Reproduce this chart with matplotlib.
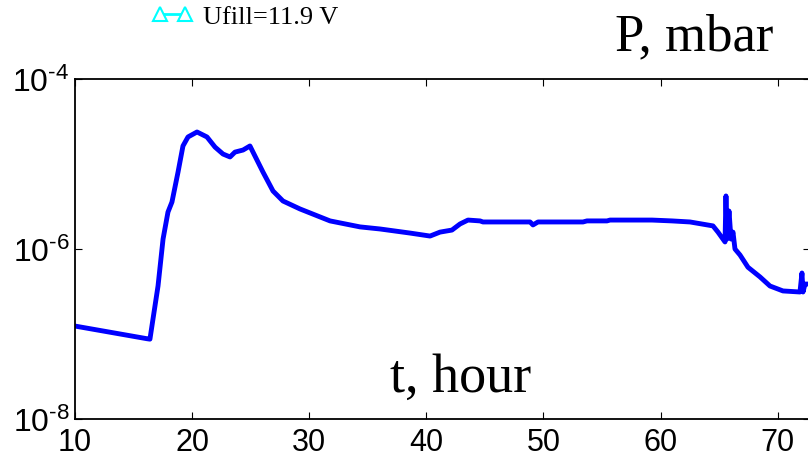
import matplotlib
matplotlib.use("Agg")
import matplotlib.pyplot as plt
from matplotlib.ticker import FixedLocator, FixedFormatter, NullLocator

# Pressure vs time
hours = [10.0, 16.15, 16.40, 16.66, 17.09, 17.52, 17.94, 18.28, 18.80, 19.22,
         19.65, 20.42, 21.27, 21.96, 22.64, 23.24, 23.66, 24.35, 24.94, 25.37,
         26.05, 26.91, 27.76, 29.21, 31.78, 34.34, 36.05, 38.61, 40.32, 41.17,
         42.19, 42.88, 43.56, 44.59, 44.84, 48.86, 49.11, 49.54, 53.38, 53.72,
         55.43, 55.69, 57.40, 59.27, 60.98, 62.52, 64.48, 64.91, 65.51, 65.59,
         65.68, 65.85, 66.02, 66.19, 66.36, 66.79, 67.47, 68.50, 69.35, 70.46,
         71.91, 72.08, 72.17, 72.34, 72.60]
pressure = [1.24e-7, 8.8e-8, 8.7e-8, 1.50e-7, 3.67e-7, 1.31e-6, 2.72e-6, 3.57e-6, 8.05e-6, 1.63e-5,
            2.08e-5, 2.38e-5, 2.08e-5, 1.58e-5, 1.31e-5, 1.21e-5, 1.38e-5, 1.46e-5, 1.63e-5, 1.24e-5,
            8.05e-6, 4.81e-6, 3.67e-6, 2.96e-6, 2.14e-6, 1.82e-6, 1.72e-6, 1.54e-6, 1.42e-6, 1.58e-6,
            1.67e-6, 1.97e-6, 2.19e-6, 2.14e-6, 2.08e-6, 2.08e-6, 1.92e-6, 2.08e-6, 2.08e-6, 2.14e-6,
            2.14e-6, 2.19e-6, 2.19e-6, 2.19e-6, 2.14e-6, 2.08e-6, 1.87e-6, 1.58e-6, 1.21e-6, 4.21e-6,
            1.31e-6, 2.80e-6, 1.31e-6, 1.58e-6, 1.0e-6, 8.5e-7, 6.1e-7, 4.69e-7, 3.67e-7, 3.21e-7,
            3.12e-7, 5.22e-7, 3.12e-7, 3.87e-7, 3.87e-7]

x_ticks = [10, 20, 30, 40, 50, 60, 70]
y_ticks = [1e-8, 1e-6, 1e-4]
y_ticklabels = [r'$\mathregular{10^{\text{-}8}}$', r'$\mathregular{10^{\text{-}6}}$',
                r'$\mathregular{10^{\text{-}4}}$']
legend_label = 'Ufill=11.9 V'

plt.rcParams['font.family'] = 'Liberation Sans'
plt.rcParams['mathtext.fontset'] = 'custom'
plt.rcParams['mathtext.rm'] = 'Liberation Sans'

fig = plt.figure(figsize=(8.08, 4.56), dpi=100)
ax = fig.add_axes([75 / 808, 1 - 420 / 456, (810 - 75) / 808, 340 / 456])

ax.plot(hours, pressure, color='#0000ff', lw=3.5, solid_joinstyle='round')
ax.set_yscale('log')
ax.set_xlim(10, 10 + (810 - 75) / 11.71)
ax.set_ylim(1e-8, 1e-4)

ax.xaxis.set_major_locator(FixedLocator(x_ticks))
ax.yaxis.set_major_locator(FixedLocator(y_ticks))
ax.yaxis.set_major_formatter(FixedFormatter(y_ticklabels))
ax.yaxis.set_minor_locator(NullLocator())
ax.xaxis.set_minor_locator(NullLocator())
ax.tick_params(direction='in', length=5, width=0.8, top=True, right=True,
               labelsize=22, colors='black')
ax.tick_params(axis='x', pad=6)
ax.tick_params(axis='y', pad=4, labelsize=23)
for s in ax.spines.values():
    s.set_linewidth(1.3)

# legend entry drawn as in the source figure
ax.plot([], [], color='cyan', lw=2, marker='^', markersize=10,
        markerfacecolor='white', markeredgecolor='cyan', markeredgewidth=1.5,
        label=legend_label)
leg = fig.legend(loc='center left', bbox_to_anchor=(152 / 808, 1 - 17 / 456),
                 frameon=False, borderpad=0, borderaxespad=0, numpoints=2,
                 handlelength=1.55, handletextpad=0.4,
                 prop={'family': 'Liberation Serif', 'size': 19})

fig.text(615 / 808, 1 - 50 / 456, 'P, mbar', family='Liberation Serif',
         fontsize=38, ha='left', va='baseline')
fig.text(390 / 808, 1 - 392 / 456, 't, hour', family='Liberation Serif',
         fontsize=39, ha='left', va='baseline')

fig.savefig('out.png', dpi=100)
